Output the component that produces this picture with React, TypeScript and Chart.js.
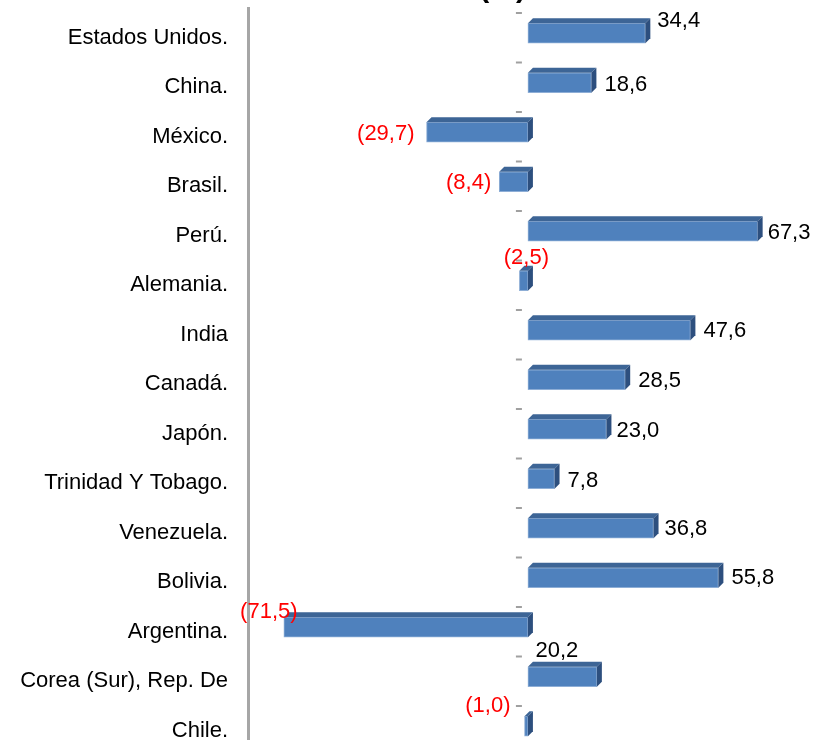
import React, { useEffect, useRef } from 'react';
import { Chart, registerables } from 'chart.js';

Chart.register(...registerables);

// ---- data ----
const categories = [
  'Estados Unidos.',
  'China.',
  'México.',
  'Brasil.',
  'Perú.',
  'Alemania.',
  'India',
  'Canadá.',
  'Japón.',
  'Trinidad Y Tobago.',
  'Venezuela.',
  'Bolivia.',
  'Argentina.',
  'Corea (Sur), Rep. De',
  'Chile.',
];
const values = [34.4, 18.6, -29.7, -8.4, 67.3, -2.5, 47.6, 28.5, 23.0, 7.8, 36.8, 55.8, -71.5, 20.2, -1.0];
const titleText = '(%)';
const xMin = -82;
const xMax = 80;

// ---- label placement (style) ----
const labelAlign = ['left', 'left', 'right', 'right', 'left', 'center', 'left', 'left', 'left', 'left', 'left', 'left', 'center', 'center', 'right'];
const labelDx = [12, 13, -12, -8, 10, 7, 13, 13, 10, 13, 11, 13, -15, -40, -14];
const labelDy = [-12, 2, 2, 1.5, 2, -22.5, 1, 1.5, 2, 2.5, 1, 0.5, -15, -25.5, -20];

const FONT = '"Liberation Sans", Arial, sans-serif';
const DEPTH = 5;
const LABEL_SHIFT = 4.5;

const fmt = (v: number) => {
  const s = Math.abs(v).toFixed(1).replace('.', ',');
  return v < 0 ? `(${s})` : s;
};

const faces3d = {
  id: 'faces3d',
  afterDatasetsDraw(chart: any) {
    const ctx = chart.ctx;
    const meta = chart.getDatasetMeta(0);
    ctx.save();
    meta.data.forEach((el: any) => {
      const left = Math.min(el.x, el.base);
      const right = Math.max(el.x, el.base);
      const top = el.y - el.height / 2;
      const bottom = el.y + el.height / 2;
      ctx.fillStyle = '#3d6596';
      ctx.beginPath();
      ctx.moveTo(left, top);
      ctx.lineTo(left + DEPTH, top - DEPTH);
      ctx.lineTo(right + DEPTH, top - DEPTH);
      ctx.lineTo(right, top);
      ctx.closePath();
      ctx.fill();
      ctx.fillStyle = '#2d4f7e';
      ctx.beginPath();
      ctx.moveTo(right, top);
      ctx.lineTo(right + DEPTH, top - DEPTH);
      ctx.lineTo(right + DEPTH, bottom - DEPTH);
      ctx.lineTo(right, bottom);
      ctx.closePath();
      ctx.fill();
    });
    ctx.restore();
  },
};

const zeroTicks = {
  id: 'zeroTicks',
  afterDatasetsDraw(chart: any) {
    const ctx = chart.ctx;
    const xs = chart.scales.x;
    const ys = chart.scales.y;
    const x0 = xs.getPixelForValue(0);
    const n = categories.length;
    const band = (ys.bottom - ys.top) / n;
    ctx.save();
    ctx.strokeStyle = '#a0a0a0';
    ctx.lineWidth = 2;
    for (let i = 0; i <= n; i++) {
      const y = ys.top + band * i + LABEL_SHIFT;
      ctx.beginPath();
      ctx.moveTo(x0 - 12, y);
      ctx.lineTo(x0 - 6, y);
      ctx.stroke();
    }
    ctx.restore();
  },
};

const valueLabels = {
  id: 'valueLabels',
  afterDatasetsDraw(chart: any) {
    const ctx = chart.ctx;
    const meta = chart.getDatasetMeta(0);
    ctx.save();
    ctx.font = `22px ${FONT}`;
    ctx.textBaseline = 'middle';
    meta.data.forEach((el: any, i: number) => {
      const v = values[i];
      ctx.fillStyle = v < 0 ? '#ff0000' : '#000000';
      ctx.textAlign = labelAlign[i] as CanvasTextAlign;
      ctx.fillText(fmt(v), el.x + labelDx[i], el.y + labelDy[i]);
    });
    ctx.restore();
  },
};

const topTitle = {
  id: 'topTitle',
  afterDraw(chart: any) {
    const ctx = chart.ctx;
    const xs = chart.scales.x;
    ctx.save();
    ctx.font = `bold 30px ${FONT}`;
    ctx.fillStyle = '#000';
    ctx.textAlign = 'right';
    ctx.textBaseline = 'alphabetic';
    ctx.fillText(titleText, xs.getPixelForValue(0) - 2, -3);
    ctx.restore();
  },
};

export default function App() {
  const ref = useRef<HTMLCanvasElement>(null);
  useEffect(() => {
    const chart = new Chart(ref.current as HTMLCanvasElement, {
      type: 'bar',
      data: {
        labels: categories,
        datasets: [
          {
            data: values,
            backgroundColor: '#4f81bd',
            borderColor: '#8eaed6',
            borderWidth: 1,
            borderSkipped: false,
            barThickness: 20,
          },
        ],
      },
      options: {
        indexAxis: 'y',
        animation: false,
        responsive: false,
        devicePixelRatio: 1,
        layout: { padding: { top: 8.5, bottom: 9, left: 0, right: 12 } },
        plugins: {
          legend: { display: false },
          tooltip: { enabled: false },
          title: { display: false },
        },
        scales: {
          x: {
            type: 'linear',
            min: xMin,
            max: xMax,
            display: false,
          },
          y: {
            type: 'category',
            position: 'left',
            grid: { display: false, drawTicks: false, tickLength: 0 },
            border: { display: true, color: '#a6a6a6', width: 3 },
            ticks: {
              autoSkip: false,
              color: '#000',
              padding: 20,
              labelOffset: LABEL_SHIFT,
              font: { family: FONT, size: 22 },
            },
            afterFit: (scale: any) => {
              scale.width = 248;
              scale.paddingTop = 0;
              scale.paddingBottom = 0;
            },
          },
        },
      },
      plugins: [faces3d, zeroTicks, valueLabels, topTitle],
    } as any);
    return () => chart.destroy();
  }, []);
  return (
    <div style={{ position: 'absolute', left: 0, top: 0, width: 813, height: 740, overflow: 'hidden', background: '#fff' }}>
      <canvas ref={ref} width={813} height={760} style={{ display: 'block', width: 813, height: 760 }} />
    </div>
  );
}
